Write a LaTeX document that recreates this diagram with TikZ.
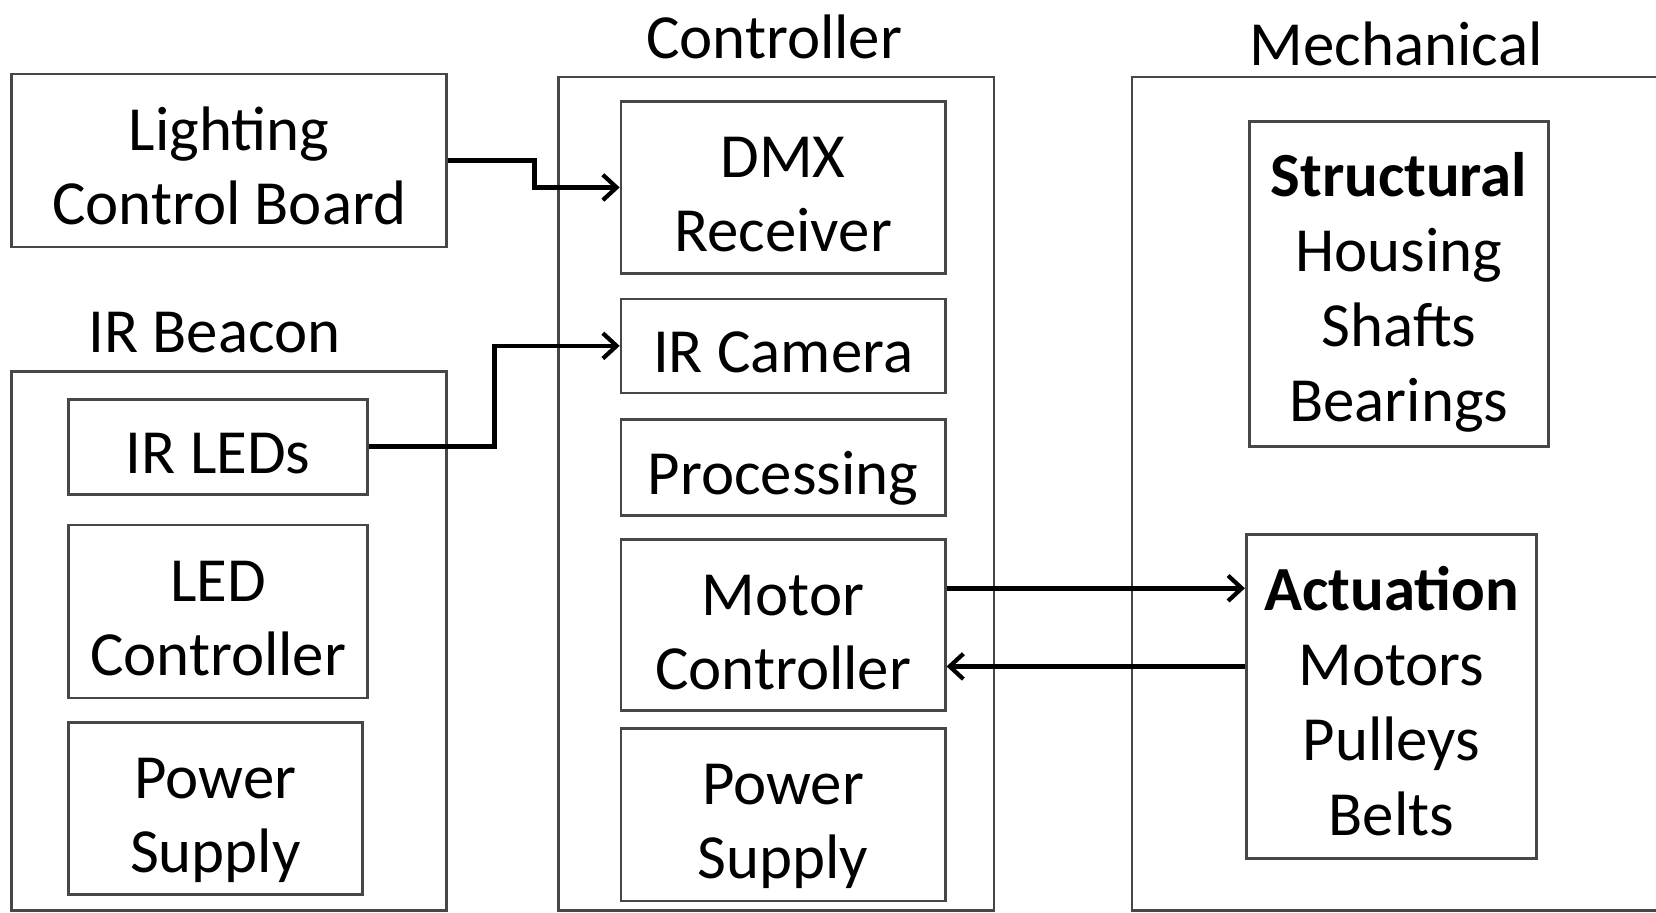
\documentclass[tikz,border=0pt]{standalone}
\usepackage{fontspec}
\setmainfont{Carlito}
\usetikzlibrary{arrows.meta}
\newcommand\myTop{\rule{0pt}{66pt}}
\newcommand\myBot{\rule[-15pt]{0pt}{15pt}}
\newcommand\myTopT{\rule{0pt}{63pt}}
\begin{document}
\begin{tikzpicture}[x=1pt,y=-1pt,
  box/.style={draw=black!72, line width=2.5pt, inner sep=0pt, align=center,
    font=\fontsize{59.5}{70}\selectfont},
  tallbox/.style={box, font=\fontsize{59.5}{71}\selectfont},
  grouplabel/.style={inner sep=0pt, font=\fontsize{59.5}{70}\selectfont},
  conn/.style={draw=black, line width=4.5pt, -{Straight Barb[length=13pt,width=24pt,line width=4pt]}}]
\useasboundingbox (0,0) rectangle (1568,864);
% group labels
\node[grouplabel] (lblctrl) at (733,35) {Controller};
\node[grouplabel] (lblbeacon) at (203,315) {IR Beacon};
\node[grouplabel] (lblmech) at (1322,42) {Mechanical};
% outer groups
\node[box, minimum width=412pt, minimum height=789pt] (ctrl) at (735,467.5) {};
\node[box, minimum width=412pt, minimum height=510pt] (beacon) at (217,607) {};
\draw[draw=black!72, line width=2.5pt] (1600,73) -- (1072,73) -- (1072,862) -- (1600,862);
% left boxes
\node[box, minimum width=412pt, minimum height=164pt] (lcb) at (217,152) {\myTop Lighting\\Control Board\myBot};
\node[box, minimum width=283pt, minimum height=90pt] (irleds) at (206.5,423) {\myTop IR LEDs\myBot};
\node[box, minimum width=283pt, minimum height=164pt] (ledctrl) at (206.5,579) {\myTop LED\\Controller\myBot};
\node[box, minimum width=278pt, minimum height=163pt] (psbeacon) at (204,765.5) {\myTop Power\\Supply\myBot};
% controller boxes
\node[box, minimum width=307pt, minimum height=163pt] (dmx) at (741.5,177.5) {\myTop DMX\\Receiver\myBot};
\node[box, minimum width=307pt, minimum height=89pt] (ircam) at (741.5,327.5) {\myTop IR Camera\myBot};
\node[box, minimum width=307pt, minimum height=91pt] (proc) at (741.5,442.5) {\myTop Processing\myBot};
\node[box, minimum width=307pt, minimum height=162pt] (motor) at (741.5,592) {\myTop Motor\\Controller\myBot};
\node[box, minimum width=307pt, minimum height=163pt] (psctrl) at (741.5,771.5) {\myTop Power\\Supply\myBot};
% mechanical boxes
\node[tallbox, minimum width=283pt, minimum height=308pt] (struct) at (1324.5,269) {\myTopT\textbf{Structural}\\Housing\\Shafts\\Bearings\myBot};
\node[tallbox, minimum width=275pt, minimum height=307pt] (act) at (1317.5,659.5) {\myTop\textbf{Actuation}\\Motors\\Pulleys\\Belts\myBot};
% connectors
\draw[conn] (lcb.east) -- ++(82,0) |- (dmx.west);
\draw[conn] (irleds.east) -- ++(119,0) |- (ircam.west);
\coordinate (m1) at ([yshift=35pt]motor.east);
\coordinate (m2) at ([yshift=-39pt]motor.east);
\draw[conn] (m1) -- (m1 -| act.west);
\draw[conn] (m2 -| act.west) -- (m2);
\end{tikzpicture}
\end{document}
